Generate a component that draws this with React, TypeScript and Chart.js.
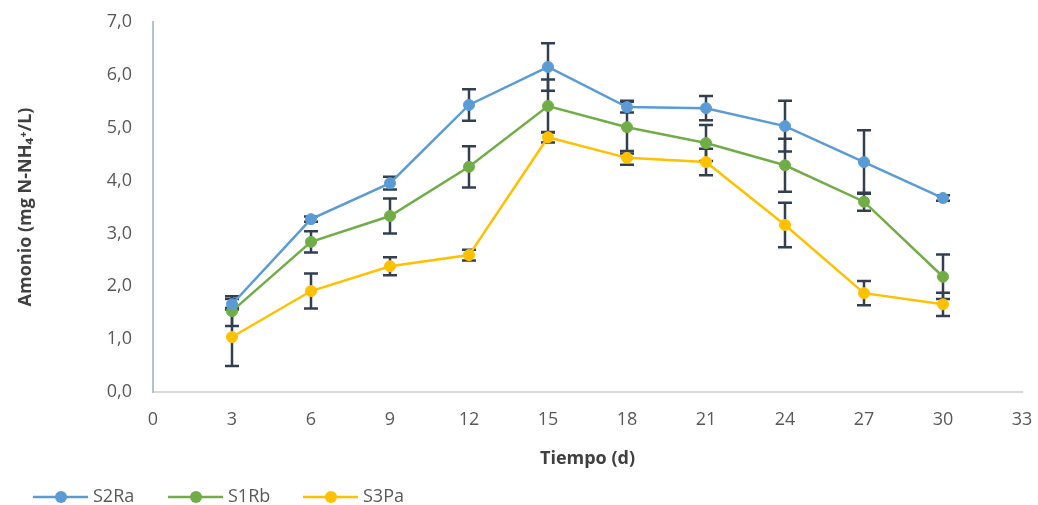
import React, { useEffect, useRef } from "react";
import { Chart, registerables } from "chart.js";

Chart.register(...registerables);

// ---- data ----
const days = [3, 6, 9, 12, 15, 18, 21, 24, 27, 30];
const seriesNames = ["S2Ra", "S1Rb", "S3Pa"];
const s2Ra = [1.66, 3.27, 3.95, 5.43, 6.15, 5.39, 5.37, 5.03, 4.35, 3.67];
const s1Rb = [1.53, 2.84, 3.33, 4.26, 5.41, 5.01, 4.71, 4.29, 3.6, 2.18];
const s3Pa = [1.04, 1.91, 2.38, 2.59, 4.82, 4.43, 4.35, 3.16, 1.87, 1.66];
const s2RaErr = [0.1, 0.05, 0.12, 0.3, 0.45, 0.1, 0.23, 0.48, 0.6, 0.05];
const s1RbErr = [0.28, 0.2, 0.33, 0.39, 0.5, 0.5, 0.34, 0.5, 0.17, 0.42];
const s3PaErr = [0.55, 0.33, 0.17, 0.1, 0.1, 0.13, 0.25, 0.42, 0.23, 0.22];
const xTickMin = 0;
const xTickMax = 33;
const xTickStep = 3;
const yTickMin = 0;
const yTickMax = 7;
const yTickStep = 1;
const xTitle = "Tiempo (d)";
const yTitle = "Amonio (mg N-NH₄⁺/L)";

const seriesValues = [s2Ra, s1Rb, s3Pa];
const seriesErrors = [s2RaErr, s1RbErr, s3PaErr];
const seriesColors = ["#5B9BD5", "#70AD47", "#FFC000"];

const FONT = "'Open Sans', 'Noto Sans', sans-serif";

const errorBarPlugin = {
  id: "errorBars",
  beforeDatasetsDraw(chart: any) {
    const { ctx } = chart;
    const x = chart.scales.x;
    const y = chart.scales.y;
    ctx.save();
    ctx.strokeStyle = "#333F50";
    ctx.lineWidth = 2.5;
    chart.data.datasets.forEach((ds: any, i: number) => {
      const errs = seriesErrors[i];
      ds.data.forEach((p: any, j: number) => {
        const px = x.getPixelForValue(p.x);
        const top = y.getPixelForValue(p.y + errs[j]);
        const bot = y.getPixelForValue(p.y - errs[j]);
        const hw = 7;
        ctx.beginPath();
        ctx.moveTo(px, top);
        ctx.lineTo(px, bot);
        ctx.moveTo(px - hw, top);
        ctx.lineTo(px + hw, top);
        ctx.moveTo(px - hw, bot);
        ctx.lineTo(px + hw, bot);
        ctx.stroke();
      });
    });
    ctx.restore();
  },
};

const legendPlugin = {
  id: "customLegend",
  afterDraw(chart: any) {
    const { ctx } = chart;
    ctx.save();
    const yPos = 497;
    const startX = 33;
    const spacing = 135;
    chart.data.datasets.forEach((ds: any, i: number) => {
      const x0 = startX + i * spacing;
      ctx.strokeStyle = ds.borderColor;
      ctx.lineWidth = 2.5;
      ctx.beginPath();
      ctx.moveTo(x0, yPos);
      ctx.lineTo(x0 + 55, yPos);
      ctx.stroke();
      ctx.fillStyle = ds.borderColor;
      ctx.beginPath();
      ctx.arc(x0 + 28, yPos, 6, 0, Math.PI * 2);
      ctx.fill();
      ctx.fillStyle = "#595959";
      ctx.font = `18px ${FONT}`;
      ctx.textBaseline = "middle";
      ctx.textAlign = "left";
      ctx.fillText(ds.label, x0 + 60, yPos);
    });
    ctx.restore();
  },
};

export default function App() {
  const canvasRef = useRef<HTMLCanvasElement | null>(null);

  useEffect(() => {
    if (!canvasRef.current) return;
    const datasets = seriesNames.map((name, i) => ({
      label: name,
      data: days.map((d, j) => ({ x: d, y: seriesValues[i][j] })),
      borderColor: seriesColors[i],
      backgroundColor: seriesColors[i],
      pointBackgroundColor: seriesColors[i],
      pointBorderColor: seriesColors[i],
      pointRadius: 5.5,
      pointBorderWidth: 1,
      borderWidth: 2.5,
      tension: 0,
    }));
    const chart = new Chart(canvasRef.current, {
      type: "line",
      data: { datasets },
      options: {
        animation: false,
        responsive: true,
        maintainAspectRatio: false,
        layout: { padding: { top: 22, right: 16, bottom: 35, left: 0 } },
        plugins: {
          legend: { display: false },
          tooltip: { enabled: false },
        },
        scales: {
          x: {
            type: "linear",
            min: xTickMin,
            max: xTickMax,
            afterFit: (scale: any) => {
              scale.height = 78;
            },
            ticks: {
              stepSize: xTickStep,
              padding: 0,
              color: "#595959",
              font: { family: FONT, size: 18 },
            },
            grid: {
              display: true,
              drawOnChartArea: false,
              drawTicks: true,
              tickLength: 17,
              color: "rgba(0,0,0,0)",
            },
            border: { display: true, color: "#D9D9D9", width: 2 },
            title: {
              display: true,
              text: xTitle,
              color: "#404040",
              font: { family: FONT, size: 18, weight: "bold" },
              padding: { top: 0, bottom: 0 },
            },
          },
          y: {
            min: yTickMin,
            max: yTickMax,
            afterFit: (scale: any) => {
              scale.width = 153;
            },
            ticks: {
              stepSize: yTickStep,
              padding: 0,
              color: "#595959",
              font: { family: FONT, size: 18 },
              callback: (v: any) => Number(v).toFixed(1).replace(".", ","),
            },
            grid: {
              display: true,
              drawOnChartArea: false,
              drawTicks: true,
              tickLength: 21,
              color: "rgba(0,0,0,0)",
            },
            border: { display: true, color: "#B4C0D3", width: 2 },
            title: {
              display: true,
              text: yTitle,
              color: "#404040",
              font: { family: FONT, size: 18, weight: "bold" },
              padding: { top: 15, bottom: 0 },
            },
          },
        },
      },
      plugins: [errorBarPlugin, legendPlugin],
    } as any);
    return () => chart.destroy();
  }, []);

  return (
    <div
      style={{
        position: "fixed",
        left: 0,
        top: 0,
        width: 1038,
        height: 505,
        background: "#ffffff",
      }}
    >
      <canvas ref={canvasRef} />
    </div>
  );
}
